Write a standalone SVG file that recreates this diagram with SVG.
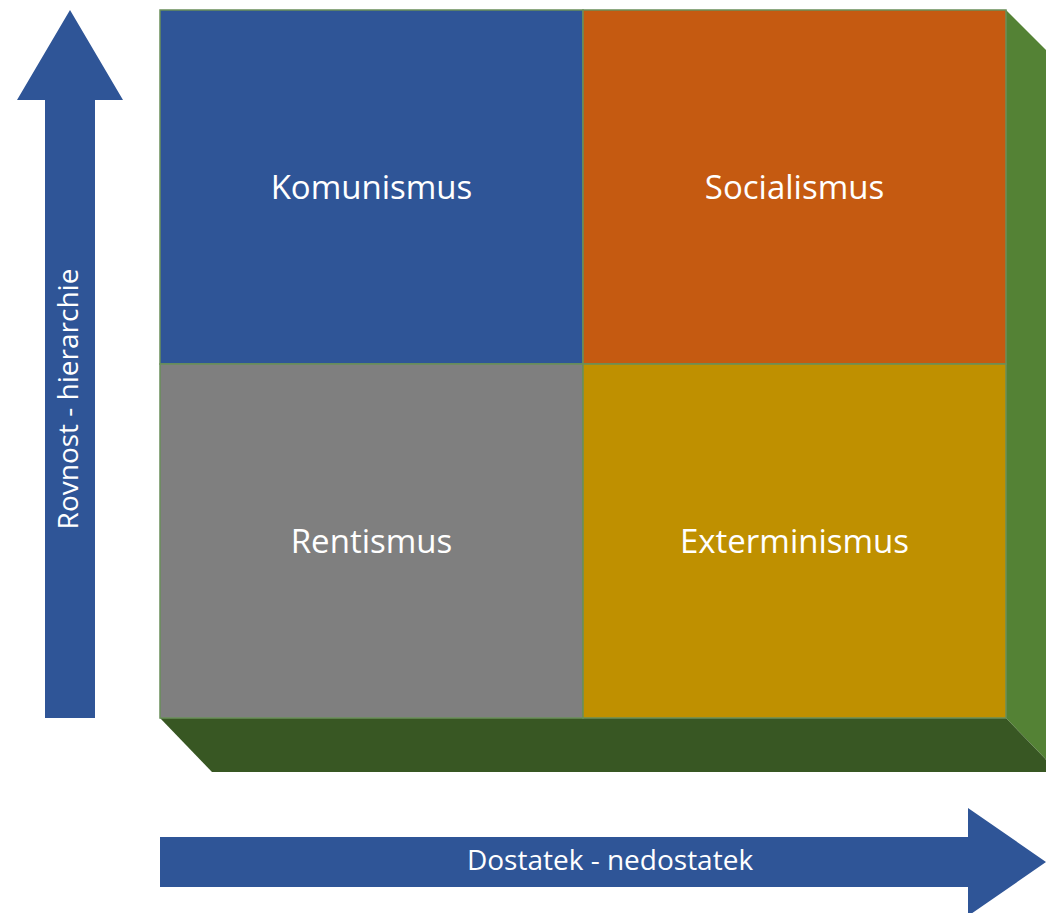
<svg xmlns="http://www.w3.org/2000/svg" width="1046" height="913" viewBox="0 0 1046 913">
<style>
.lbl{font-family:"Open Sans","Noto Sans","Liberation Sans",sans-serif;fill:#FFFFFF;text-anchor:middle}
.q{font-size:33px}
.ax{font-size:28px}
.quad{stroke:#6A8F5A;stroke-width:1.5}
.arrow{fill:#2F5597}
</style>
<rect width="1046" height="913" fill="#FFFFFF"/>
<g id="box3d">
<polygon points="1006,10 1058,62 1058,772 1006,718" fill="#548235"/>
<polygon points="160,718 1006,718 1058,772 212,772" fill="#385723"/>
</g>
<g id="komunismus">
<rect class="quad" x="160" y="10" width="423" height="354" fill="#2F5597"/>
<text class="lbl q" x="371.5" y="199">Komunismus</text>
</g>
<g id="socialismus">
<rect class="quad" x="583" y="10" width="423" height="354" fill="#C55A11"/>
<text class="lbl q" x="794.5" y="199">Socialismus</text>
</g>
<g id="rentismus">
<rect class="quad" x="160" y="364" width="423" height="354" fill="#7F7F7F"/>
<text class="lbl q" x="371.5" y="553">Rentismus</text>
</g>
<g id="exterminismus">
<rect class="quad" x="583" y="364" width="423" height="354" fill="#BF9000"/>
<text class="lbl q" x="794.5" y="553">Exterminismus</text>
</g>
<g id="connectors">
<g id="axis-y">
<polygon class="arrow" points="70,10 123,100 95,100 95,718 45,718 45,100 17,100"/>
<text class="lbl ax" transform="translate(78,399) rotate(-90)">Rovnost - hierarchie</text>
</g>
<g id="axis-x">
<polygon class="arrow" points="160,837 968,837 968,808 1046,862 968,916 968,887 160,887"/>
<text class="lbl ax" x="610" y="870">Dostatek - nedostatek</text>
</g>
</g>
</svg>
